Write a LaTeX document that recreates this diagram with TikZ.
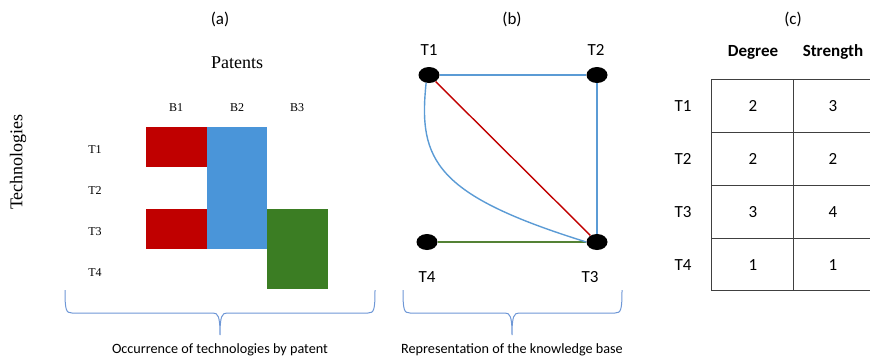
\documentclass[tikz,border=0pt]{standalone}
\usepackage{fontspec}
\setmainfont{Carlito}
\newfontfamily\timesfont{Liberation Serif}
\usetikzlibrary{positioning,shapes.geometric,calc}

\definecolor{cellred}{HTML}{C00000}
\definecolor{cellblue}{HTML}{4A95D9}
\definecolor{cellgreen}{HTML}{3B7D23}
\definecolor{edgeblue}{HTML}{5B9BD5}
\definecolor{edgegreen}{HTML}{548235}
\definecolor{bracecol}{HTML}{6E97D6}
\definecolor{tabline}{HTML}{404040}

\begin{document}
\begin{tikzpicture}[x=1pt, y=-1pt,
    lbl/.style={font=\fontsize{17}{20}\selectfont, inner sep=0pt},
    captxt/.style={font=\fontsize{14.2}{16}\selectfont, inner sep=0pt},
    tms/.style={font=\timesfont\fontsize{12}{14}\selectfont, inner sep=0pt},
    big/.style={font=\timesfont\fontsize{18}{20}\selectfont, inner sep=0pt},
    dot/.style={ellipse, fill=black, minimum width=21pt, minimum height=16pt, inner sep=0pt},
    edge/.style={line width=1.4pt},
    brace/.style={draw=bracecol, line width=1pt},
  ]
  \useasboundingbox (0,0) rectangle (870,360);

  % panel (a): occurrence grid
  \node[lbl] (ta) at (220,19) {(a)};
  \node[big] (patents) at (237,63) {Patents};
  \node[big, rotate=90] (techs) at (18,162) {Technologies};
  \node[tms] (b1) at (176,108) {B1};
  \node[tms] (b2) at (237,108) {B2};
  \node[tms] (b3) at (297,108) {B3};
  \node[tms] (r1) at (95,150) {T1};
  \node[tms] (r2) at (95,191) {T2};
  \node[tms] (r3) at (95,232) {T3};
  \node[tms] (r4) at (95,273) {T4};
  \fill[cellred] (146,127) rectangle (207,167);
  \fill[cellred] (146,209) rectangle (207,249);
  \fill[cellblue] (207,127) rectangle (267,249);
  \fill[cellgreen] (267,209) rectangle (328,289);
  \draw[brace] (65,290) .. controls (65,310) and (66,313) .. (72,313) -- (213,313)
    .. controls (218,313) and (220,316) .. (220,335)
    .. controls (220,316) and (222,313) .. (227,313) -- (368,313)
    .. controls (374,313) and (375,310) .. (375,290);
  \node[captxt] (capa) at (220,350) {Occurrence of technologies by patent};

  % panel (b): network
  \node[lbl] (tb) at (512,19) {(b)};
  \node[dot] (n1) at (429,75) {};
  \node[dot] (n2) at (597,75) {};
  \node[dot] (n3) at (597,242) {};
  \node[dot] (n4) at (427,242) {};
  \node[lbl] (l1) at (429,50) {T1};
  \node[lbl] (l2) at (596,50) {T2};
  \node[lbl] (l3) at (590,277) {T3};
  \node[lbl] (l4) at (427,277) {T4};
  \draw[edge, edgeblue] (n1) -- (n2);
  \draw[edge, edgeblue] (n2) -- (n3);
  \draw[edge, cellred] (n1) -- (n3);
  \draw[edge, edgegreen] (n4) -- (n3);
  \draw[edge, edgeblue] (n1.250) .. controls (418,160) and (435,195) .. (n3.west);
  \draw[brace] (403,290) .. controls (403,310) and (404,313) .. (410,313) -- (505,313)
    .. controls (510,313) and (512,316) .. (512,335)
    .. controls (512,316) and (514,313) .. (519,313) -- (615,313)
    .. controls (621,313) and (622,310) .. (622,290);
  \node[captxt] (capb) at (512,350) {Representation of the knowledge base};

  % panel (c): degree and strength
  \node[lbl] (tc) at (793,19) {(c)};
  \node[lbl, font=\bfseries\fontsize{17}{20}\selectfont] (hdeg) at (753,52) {Degree};
  \node[lbl, font=\bfseries\fontsize{17}{20}\selectfont] (hstr) at (833,52) {Strength};
  \draw[tabline, line width=1pt] (711,79) -- (870,79)
    (711,132) -- (870,132) (711,185) -- (870,185) (711,238) -- (870,238)
    (711,290) -- (870,290) (711,79) -- (711,290) (793,79) -- (793,290);
  \node[lbl] (c1) at (683,106) {T1};
  \node[lbl] (c2) at (683,159) {T2};
  \node[lbl] (c3) at (683,212) {T3};
  \node[lbl] (c4) at (683,265) {T4};
  \node[lbl] (d1) at (753,106) {2};
  \node[lbl] (d2) at (753,159) {2};
  \node[lbl] (d3) at (753,212) {3};
  \node[lbl] (d4) at (753,265) {1};
  \node[lbl] (s1) at (833,106) {3};
  \node[lbl] (s2) at (833,159) {2};
  \node[lbl] (s3) at (833,212) {4};
  \node[lbl] (s4) at (833,265) {1};
\end{tikzpicture}
\end{document}
